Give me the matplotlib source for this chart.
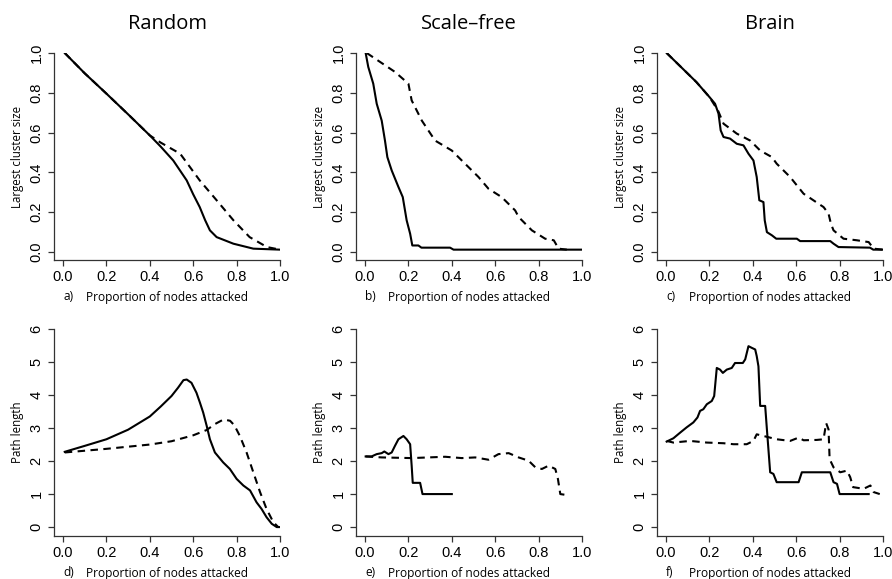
import matplotlib
matplotlib.use("Agg")
import matplotlib.pyplot as plt

# ---- data (x = proportion of nodes attacked) ----
# a) Random, largest cluster size
rand_lc_solid_x = [0.008, 0.10, 0.20, 0.30, 0.40, 0.45, 0.508, 0.57, 0.60, 0.63, 0.655, 0.677, 0.708, 0.785, 0.877, 1.0]
rand_lc_solid_y = [1.0, 0.898, 0.796, 0.692, 0.586, 0.53, 0.46, 0.36, 0.29, 0.226, 0.16, 0.109, 0.075, 0.042, 0.017, 0.012]
rand_lc_dash_x = [0.008, 0.10, 0.20, 0.30, 0.40, 0.45, 0.54, 0.63, 0.708, 0.785, 0.86, 0.94, 1.0]
rand_lc_dash_y = [1.0, 0.898, 0.796, 0.692, 0.586, 0.55, 0.494, 0.36, 0.26, 0.16, 0.075, 0.025, 0.012]

# b) Scale-free, largest cluster size
sf_lc_solid_x = [0.003, 0.015, 0.038, 0.054, 0.077, 0.092, 0.103, 0.123, 0.154, 0.174, 0.192, 0.208, 0.218, 0.246, 0.26, 0.392, 0.408, 1.0]
sf_lc_solid_y = [1.0, 0.93, 0.846, 0.745, 0.66, 0.56, 0.477, 0.41, 0.327, 0.276, 0.159, 0.092, 0.033, 0.033, 0.022, 0.022, 0.012, 0.012]
sf_lc_dash_x = [0.008, 0.138, 0.20, 0.215, 0.262, 0.323, 0.40, 0.446, 0.523, 0.569, 0.63, 0.692, 0.708, 0.769, 0.83, 0.87, 0.892, 0.93]
sf_lc_dash_y = [1.0, 0.905, 0.846, 0.762, 0.66, 0.56, 0.51, 0.46, 0.377, 0.318, 0.276, 0.209, 0.176, 0.109, 0.067, 0.059, 0.017, 0.012]

# c) Brain, largest cluster size
br_lc_solid_x = [0.003, 0.14, 0.20, 0.226, 0.242, 0.252, 0.265, 0.295, 0.326, 0.357, 0.38, 0.403, 0.418, 0.43, 0.449, 0.455, 0.465,
                 0.488, 0.508, 0.603, 0.618, 0.757, 0.772, 0.795, 0.94, 0.955, 1.0]
br_lc_solid_y = [1.0, 0.854, 0.779, 0.745, 0.695, 0.611, 0.578, 0.57, 0.544, 0.536, 0.494, 0.46, 0.377, 0.26, 0.251, 0.159, 0.10,
                 0.084, 0.067, 0.067, 0.055, 0.055, 0.042, 0.025, 0.022, 0.012, 0.012]
br_lc_dash_x = [0.003, 0.14, 0.20, 0.24, 0.265, 0.326, 0.388, 0.434, 0.488, 0.51, 0.572, 0.634, 0.726, 0.749, 0.76, 0.772, 0.818,
                0.88, 0.934, 0.957, 1.0]
br_lc_dash_y = [1.0, 0.854, 0.779, 0.71, 0.645, 0.595, 0.56, 0.51, 0.477, 0.444, 0.377, 0.293, 0.226, 0.193, 0.142, 0.109, 0.067,
                0.059, 0.05, 0.017, 0.012]

# d) Random, path length
rand_pl_solid_x = [0.008, 0.10, 0.20, 0.30, 0.40, 0.45, 0.50, 0.53, 0.555, 0.57, 0.592, 0.615, 0.631, 0.646, 0.662, 0.677,
                   0.70, 0.738, 0.769, 0.80, 0.831, 0.862, 0.892, 0.915, 0.938, 0.962, 0.985, 1.0]
rand_pl_solid_y = [2.28, 2.46, 2.66, 2.95, 3.35, 3.65, 3.97, 4.22, 4.45, 4.47, 4.37, 4.07, 3.77, 3.47, 3.07, 2.66,
                   2.26, 1.96, 1.76, 1.46, 1.26, 1.11, 0.75, 0.55, 0.30, 0.10, 0.0, 0.0]
rand_pl_dash_x = [0.008, 0.20, 0.40, 0.50, 0.60, 0.662, 0.70, 0.74, 0.77, 0.79, 0.815, 0.846, 0.877, 0.908, 0.938, 0.969, 0.992]
rand_pl_dash_y = [2.26, 2.37, 2.5, 2.6, 2.78, 2.94, 3.12, 3.26, 3.22, 3.08, 2.76, 2.26, 1.66, 1.06, 0.55, 0.15, 0.0]

# e) Scale-free, path length
sf_pl_solid_x = [0.003, 0.03, 0.054, 0.077, 0.089, 0.108, 0.123, 0.138, 0.154, 0.177, 0.192, 0.208, 0.215, 0.22, 0.254, 0.265, 0.40]
sf_pl_solid_y = [2.14, 2.14, 2.21, 2.24, 2.29, 2.21, 2.26, 2.46, 2.66, 2.76, 2.66, 2.51, 1.86, 1.34, 1.34, 1.0, 1.0]
sf_pl_dash_x = [0.003, 0.077, 0.215, 0.369, 0.446, 0.508, 0.569, 0.615, 0.662, 0.708, 0.754, 0.785, 0.815, 0.846, 0.877, 0.889,
                0.90, 0.92]
sf_pl_dash_y = [2.14, 2.11, 2.09, 2.13, 2.09, 2.11, 2.04, 2.21, 2.24, 2.11, 2.01, 1.81, 1.76, 1.86, 1.76, 1.46, 1.0, 0.98]

# f) Brain, path length
br_pl_solid_x = [0.003, 0.034, 0.065, 0.095, 0.126, 0.145, 0.157, 0.172, 0.188, 0.211, 0.222, 0.234, 0.249, 0.262, 0.28, 0.303,
                 0.318, 0.354, 0.365, 0.38, 0.395, 0.411, 0.418, 0.426, 0.434, 0.457, 0.465, 0.48, 0.495, 0.51, 0.611, 0.626,
                 0.757, 0.772, 0.788, 0.80, 0.934]
br_pl_solid_y = [2.59, 2.69, 2.86, 3.02, 3.17, 3.32, 3.52, 3.57, 3.72, 3.82, 3.97, 4.82, 4.77, 4.67, 4.77, 4.82,
                 4.97, 4.97, 5.08, 5.48, 5.43, 5.38, 5.18, 4.87, 3.67, 3.67, 2.96, 1.66, 1.61, 1.36, 1.36, 1.66,
                 1.66, 1.36, 1.31, 1.0, 1.0]
br_pl_dash_x = [0.003, 0.034, 0.111, 0.188, 0.265, 0.311, 0.372, 0.403, 0.418, 0.449, 0.51, 0.572, 0.611, 0.634, 0.695, 0.726,
                0.738, 0.749, 0.754, 0.772, 0.803, 0.834, 0.849, 0.862, 0.911, 0.942, 0.957, 0.985]
br_pl_dash_y = [2.61, 2.56, 2.61, 2.56, 2.54, 2.51, 2.51, 2.61, 2.81, 2.76, 2.66, 2.61, 2.71, 2.63, 2.64, 2.66,
                3.15, 2.96, 2.06, 1.81, 1.66, 1.71, 1.51, 1.21, 1.16, 1.26, 1.06, 1.0]

col_titles = ["Random", "Scale\u2013free", "Brain"]
panel_letters = ["a)", "b)", "c)", "d)", "e)", "f)"]
x_ticks = [0.0, 0.2, 0.4, 0.6, 0.8, 1.0]
lc_ticks = [0.0, 0.2, 0.4, 0.6, 0.8, 1.0]
pl_ticks = [0, 1, 2, 3, 4, 5, 6]

panels = [
    (rand_lc_solid_x, rand_lc_solid_y, rand_lc_dash_x, rand_lc_dash_y),
    (sf_lc_solid_x, sf_lc_solid_y, sf_lc_dash_x, sf_lc_dash_y),
    (br_lc_solid_x, br_lc_solid_y, br_lc_dash_x, br_lc_dash_y),
    (rand_pl_solid_x, rand_pl_solid_y, rand_pl_dash_x, rand_pl_dash_y),
    (sf_pl_solid_x, sf_pl_solid_y, sf_pl_dash_x, sf_pl_dash_y),
    (br_pl_solid_x, br_pl_solid_y, br_pl_dash_x, br_pl_dash_y),
]

# ---- layout (pixels of the 892x579 figure) ----
W, H = 892, 579
col_left = [54, 356, 657]
col_w = 226
row_top = [53, 329]
row_h = 207

label_font = "Open Sans"
tick_font = "Liberation Sans"

fig = plt.figure(figsize=(W / 100, H / 100), dpi=100)

for i, (sx, sy, dx, dy) in enumerate(panels):
    r, c = divmod(i, 3)
    ax = fig.add_axes([col_left[c] / W, 1 - (row_top[r] + row_h) / H, col_w / W, row_h / H])
    ax.plot(sx, sy, color="black", lw=1.5, solid_joinstyle="round")
    ax.plot(dx, dy, color="black", lw=1.5, linestyle=(0, (3.6, 2.6)))

    ax.set_xlim(-0.0415, 1.0)
    if r == 0:
        ax.set_ylim(-0.04, 1.0)
        ax.set_yticks(lc_ticks)
        ax.set_yticklabels([f"{v:.1f}" for v in lc_ticks])
        ylab = "Largest cluster size"
    else:
        ax.set_ylim(-0.27, 6.0)
        ax.set_yticks(pl_ticks)
        ax.set_yticklabels([str(v) for v in pl_ticks])
        ylab = "Path length"
    ax.set_xticks(x_ticks)
    ax.set_xticklabels([f"{v:.1f}" for v in x_ticks])

    for side in ("top", "right"):
        ax.spines[side].set_visible(False)
    for side in ("left", "bottom"):
        ax.spines[side].set_linewidth(0.9)
        ax.spines[side].set_color("#333333")
    ax.tick_params(direction="out", length=4, width=0.9, color="#333333",
                   labelsize=10.5, pad=3.5)
    ax.tick_params(axis="y", labelrotation=90)
    for lab in ax.get_xticklabels() + ax.get_yticklabels():
        lab.set_fontfamily(tick_font)
    for lab in ax.get_yticklabels():
        lab.set_verticalalignment("center")

    ax.set_ylabel(ylab, fontsize=8.3, family=label_font, labelpad=4)
    ax.text(0.5, -37 / row_h, "Proportion of nodes attacked", transform=ax.transAxes,
            ha="center", va="center", fontsize=8.6, family=label_font)
    ax.text(9 / col_w, -37 / row_h, panel_letters[i], transform=ax.transAxes,
            ha="left", va="center", fontsize=8.6, family=label_font)
    if r == 0:
        ax.text(0.5, 1 + 29 / row_h, col_titles[c], transform=ax.transAxes,
                ha="center", va="center", fontsize=14.5, family=label_font)

fig.savefig("out.png", dpi=100)
